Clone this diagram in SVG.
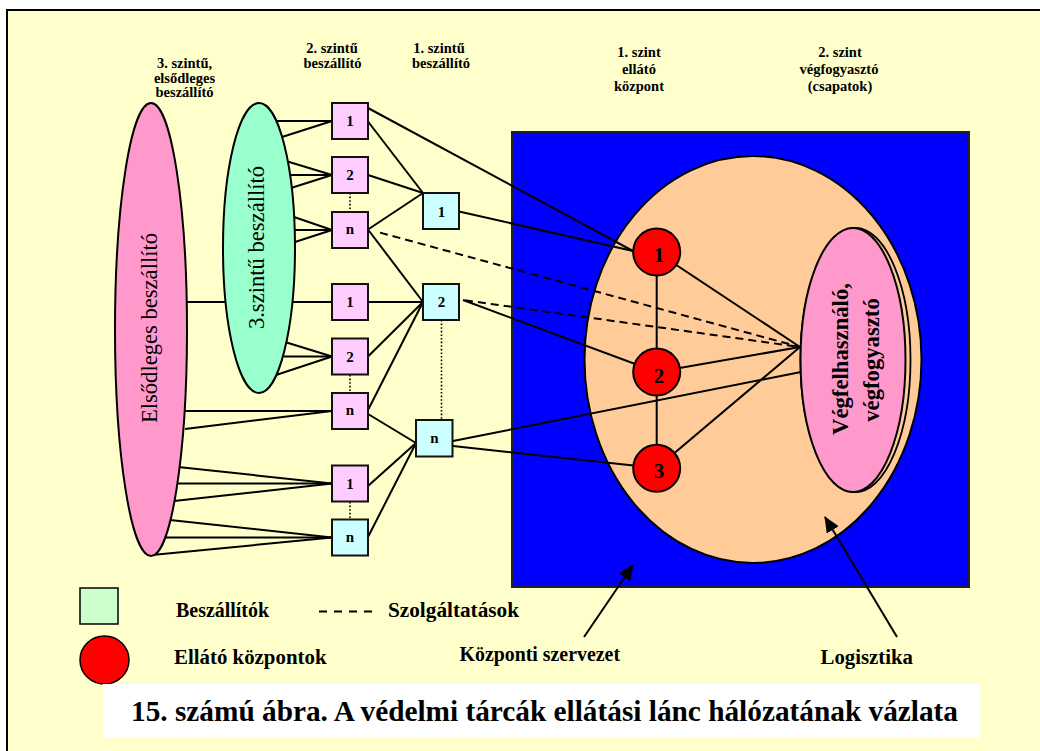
<svg xmlns="http://www.w3.org/2000/svg" width="1040" height="751" viewBox="0 0 1040 751">
  <defs>
    <style>
      text { font-family: "Liberation Serif", "Times New Roman", serif; fill: #000; }
      .hdr { font-weight: bold; font-size: 14.5px; text-anchor: middle; }
      .num { font-weight: bold; font-size: 15px; text-anchor: middle; }
      .cnum { font-weight: bold; font-size: 21px; text-anchor: middle; }
      .vert { font-size: 22.6px; text-anchor: middle; }
      .vertb { font-size: 22.7px; font-weight: bold; text-anchor: middle; }
      .leg { font-weight: bold; font-size: 20px; }
      .sq { stroke: #111; stroke-width: 2; }
      .sq2 { fill: #FFCCFF; }
      .sq1 { fill: #CCFFFF; }
      .ln { stroke: #000; stroke-width: 2; fill: none; }
      .dash { stroke-dasharray: 8 5; }
      .dot { stroke-width: 1.6; stroke-dasharray: 1.6 2; }
    </style>
    <marker id="arrow" markerWidth="16" markerHeight="14" refX="15" refY="7" orient="auto" markerUnits="userSpaceOnUse">
      <path d="M0,0 L16,7 L0,14 Z" fill="#000"/>
    </marker>
  </defs>

  <!-- page -->
  <rect x="0" y="0" width="1040" height="751" fill="#FFFFFF"/>
  <rect x="7" y="10" width="1040" height="750" fill="#FFFFCC" stroke="#000" stroke-width="2"/>

  <!-- column headings -->
  <g id="headings">
    <text class="hdr" x="184.5" y="68">3. szintű,</text>
    <text class="hdr" x="184.5" y="82.5">elsődleges</text>
    <text class="hdr" x="184.5" y="97">beszállító</text>
    <text class="hdr" x="332" y="53">2. szintű</text>
    <text class="hdr" x="332.5" y="68">beszállító</text>
    <text class="hdr" x="439" y="53">1. szintű</text>
    <text class="hdr" x="441" y="68">beszállító</text>
    <text class="hdr" x="639" y="57">1. szint</text>
    <text class="hdr" x="639" y="74">ellátó</text>
    <text class="hdr" x="639" y="90.5">központ</text>
    <text class="hdr" x="840" y="57">2. szint</text>
    <text class="hdr" x="839" y="74">végfogyasztó</text>
    <text class="hdr" x="840" y="90.5">(csapatok)</text>
  </g>

  <!-- central organisation and logistics area -->
  <g id="kozponti-szervezet">
    <rect x="512" y="132" width="457" height="455" fill="#0000FF" stroke="#222" stroke-width="2"/>
  </g>
  <g id="logisztika">
    <ellipse cx="753" cy="359.5" rx="168.5" ry="203.5" fill="#FFCC99" stroke="#000" stroke-width="2"/>
  </g>
  <g id="vegfelhasznalo">
    <ellipse cx="855.5" cy="360" rx="55" ry="132" fill="none" stroke="#000" stroke-width="1.8"/>
    <ellipse cx="853" cy="360" rx="52.5" ry="132" fill="#FF99CC" stroke="#000" stroke-width="2"/>
    <text class="vertb" transform="translate(848,359) rotate(-90)">Végfelhasználó,</text>
    <text class="vertb" transform="translate(878.5,360) rotate(-90)">végfogyasztó</text>
  </g>

  <!-- connectors -->
  <g id="connectors">
    <!-- 3rd level (green) to 2nd level -->
    <line class="ln" x1="275" y1="121" x2="332" y2="121"/>
    <line class="ln" x1="282" y1="137" x2="332" y2="121"/>
    <line class="ln" x1="286" y1="161" x2="332" y2="175"/>
    <line class="ln" x1="291" y1="175" x2="332" y2="175"/>
    <line class="ln" x1="291" y1="188" x2="332" y2="175"/>
    <line class="ln" x1="294" y1="217" x2="332" y2="230"/>
    <line class="ln" x1="295" y1="230" x2="332" y2="230"/>
    <line class="ln" x1="295" y1="242" x2="332" y2="230"/>
    <line class="ln" x1="185" y1="302" x2="332" y2="302"/>
    <line class="ln" x1="285" y1="342" x2="332" y2="356.5"/>
    <line class="ln" x1="284" y1="356.5" x2="332" y2="356.5"/>
    <line class="ln" x1="276" y1="375" x2="332" y2="356.5"/>
    <!-- primary (pink) to 2nd level -->
    <line class="ln" x1="185" y1="411" x2="332" y2="411"/>
    <line class="ln" x1="185" y1="429" x2="332" y2="411"/>
    <line class="ln" x1="178" y1="467" x2="332" y2="483.5"/>
    <line class="ln" x1="176" y1="483.5" x2="332" y2="483.5"/>
    <line class="ln" x1="174" y1="501" x2="332" y2="483.5"/>
    <line class="ln" x1="170" y1="520" x2="332" y2="537.5"/>
    <line class="ln" x1="163" y1="537.5" x2="332" y2="537.5"/>
    <line class="ln" x1="152" y1="555" x2="332" y2="537.5"/>
    <!-- 2nd level to 1st level -->
    <line class="ln" x1="368" y1="108" x2="633" y2="251"/>
    <line class="ln" x1="368" y1="121.5" x2="423" y2="193"/>
    <line class="ln" x1="368" y1="175" x2="423" y2="193"/>
    <line class="ln" x1="368" y1="229.5" x2="423" y2="193"/>
    <line class="ln" x1="368" y1="229.5" x2="423" y2="302"/>
    <line class="ln" x1="368" y1="302" x2="423" y2="302"/>
    <line class="ln" x1="368" y1="356.5" x2="423" y2="302"/>
    <line class="ln" x1="368" y1="410" x2="423" y2="302"/>
    <line class="ln" x1="368" y1="414" x2="416" y2="443"/>
    <line class="ln" x1="368" y1="486" x2="416" y2="443"/>
    <line class="ln" x1="368" y1="537" x2="416" y2="443"/>
    <!-- 1st level to supply centres -->
    <line class="ln" x1="459" y1="211.5" x2="633" y2="251"/>
    <line class="ln" x1="463" y1="300" x2="656.7" y2="372"/>
    <line class="ln" x1="453" y1="441" x2="801" y2="372"/>
    <line class="ln" x1="453" y1="446" x2="656.7" y2="468"/>
    <!-- supply centres chain and links to the end users -->
    <line class="ln" x1="656.7" y1="252" x2="656.7" y2="468"/>
    <line class="ln" x1="656.7" y1="252" x2="800" y2="347"/>
    <line class="ln" x1="656.7" y1="372" x2="800" y2="347"/>
    <line class="ln" x1="656.7" y1="468" x2="800" y2="347"/>
    <!-- services -->
    <line class="ln dash" x1="380" y1="232.6" x2="800" y2="347"/>
    <line class="ln dash" x1="465" y1="300.3" x2="800" y2="347"/>
    <!-- continuation marks -->
    <line class="ln dot" x1="350" y1="193" x2="350" y2="212"/>
    <line class="ln dot" x1="350" y1="375" x2="350" y2="393"/>
    <line class="ln dot" x1="350" y1="502" x2="350" y2="519"/>
    <line class="ln dot" x1="441.5" y1="320" x2="441.5" y2="420"/>
    <!-- pointer arrows -->
    <line class="ln" x1="584" y1="637" x2="633" y2="565" marker-end="url(#arrow)"/>
    <line class="ln" x1="897" y1="637" x2="825" y2="517" marker-end="url(#arrow)"/>
  </g>

  <!-- primary suppliers -->
  <g id="elsodleges-beszallito">
    <ellipse cx="151" cy="329.5" rx="36" ry="226.5" fill="#FF99CC" stroke="#000" stroke-width="2"/>
    <text class="vert" transform="translate(157,328) rotate(-90)">Elsődleges beszállító</text>
  </g>
  <!-- 3rd level suppliers -->
  <g id="harmadik-szint">
    <ellipse cx="259" cy="248" rx="36" ry="145" fill="#99FFCC" stroke="#000" stroke-width="2"/>
    <text class="vert" transform="translate(263.5,247.5) rotate(-90)">3.szintű beszállító</text>
  </g>

  <!-- 2nd level suppliers -->
  <g id="sz2-1a"><rect class="sq sq2" x="332" y="103" width="36" height="36"/><text class="num" x="350" y="126">1</text></g>
  <g id="sz2-2a"><rect class="sq sq2" x="332" y="157" width="36" height="36"/><text class="num" x="350" y="180">2</text></g>
  <g id="sz2-na"><rect class="sq sq2" x="332" y="212" width="36" height="36"/><text class="num" x="350" y="234">n</text></g>
  <g id="sz2-1b"><rect class="sq sq2" x="332" y="284" width="36" height="36"/><text class="num" x="350" y="307">1</text></g>
  <g id="sz2-2b"><rect class="sq sq2" x="332" y="338.5" width="36" height="36"/><text class="num" x="350" y="361.5">2</text></g>
  <g id="sz2-nb"><rect class="sq sq2" x="332" y="393" width="36" height="36"/><text class="num" x="350" y="415">n</text></g>
  <g id="sz2-1c"><rect class="sq sq2" x="332" y="465.5" width="36" height="36"/><text class="num" x="350" y="488.5">1</text></g>
  <g id="sz2-nc"><rect class="sq sq1" x="332" y="519.5" width="36" height="36"/><text class="num" x="350" y="541.5">n</text></g>

  <!-- 1st level suppliers -->
  <g id="sz1-1"><rect class="sq sq1" x="423" y="193" width="36" height="36"/><text class="num" x="441.5" y="217">1</text></g>
  <g id="sz1-2"><rect class="sq sq1" x="423" y="284" width="36" height="36"/><text class="num" x="441.5" y="307">2</text></g>
  <g id="sz1-n"><rect class="sq sq1" x="416" y="420" width="36.5" height="36.5"/><text class="num" x="434.5" y="443">n</text></g>

  <!-- supply centres -->
  <g id="kozpont-1"><circle cx="656.7" cy="252" r="23.5" fill="#FF0000" stroke="#000" stroke-width="2"/><text class="cnum" x="659" y="262">1</text></g>
  <g id="kozpont-2"><circle cx="656.7" cy="372" r="23.5" fill="#FF0000" stroke="#000" stroke-width="2"/><text class="cnum" x="659" y="382.5">2</text></g>
  <g id="kozpont-3"><circle cx="656.7" cy="468.3" r="23.5" fill="#FF0000" stroke="#000" stroke-width="2"/><text class="cnum" x="659" y="478">3</text></g>

  <!-- legend -->
  <g id="legend">
    <rect x="80" y="588" width="38" height="36" fill="#CCFFCC" stroke="#000" stroke-width="1.5"/>
    <ellipse cx="104.5" cy="660" rx="24.5" ry="24" fill="#FF0000" stroke="#000" stroke-width="1.5"/>
    <text class="leg" x="176" y="617" textLength="93" lengthAdjust="spacingAndGlyphs">Beszállítók</text>
    <line class="ln" x1="319" y1="611.5" x2="372" y2="611.5" style="stroke-dasharray:8 7"/>
    <text class="leg" x="388" y="617" textLength="131" lengthAdjust="spacingAndGlyphs">Szolgáltatások</text>
    <text class="leg" x="174" y="664" textLength="152.5" lengthAdjust="spacingAndGlyphs">Ellátó központok</text>
    <text class="leg" x="459.5" y="661" textLength="160.5" lengthAdjust="spacingAndGlyphs">Központi szervezet</text>
    <text class="leg" x="820.5" y="664" textLength="92.5" lengthAdjust="spacingAndGlyphs">Logisztika</text>
  </g>

  <!-- caption -->
  <g id="caption">
    <rect x="103" y="684" width="877" height="54" fill="#FFFFFF"/>
    <text x="131" y="721" font-size="30" font-weight="bold" textLength="827" lengthAdjust="spacingAndGlyphs">15. számú ábra. A védelmi tárcák ellátási lánc hálózatának vázlata</text>
  </g>
</svg>
